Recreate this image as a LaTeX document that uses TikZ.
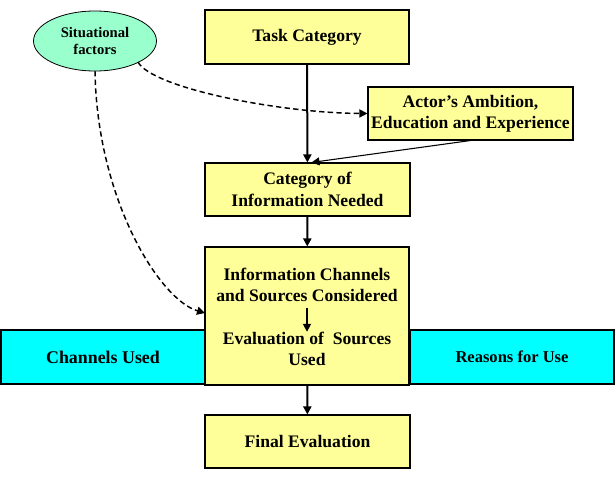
\documentclass[tikz,border=0pt]{standalone}
\usepackage{fontspec}
\setmainfont{Liberation Serif}
\usetikzlibrary{shapes.geometric,arrows.meta}
\definecolor{boxyellow}{HTML}{FFFF99}
\definecolor{mint}{HTML}{99FFCC}
\definecolor{cyanband}{HTML}{00FFFF}
\tikzset{
  ybox/.style={draw=black,line width=0.8pt,fill=boxyellow,inner sep=0pt,align=center,
    font=\bfseries\fontsize{13.2}{16}\selectfont},
  cbox/.style={draw=black,line width=0.8pt,fill=cyanband,inner sep=0pt,align=center,
    minimum width=153pt,minimum height=40.5pt},
  txt/.style={inner sep=0pt,align=center,font=\bfseries\fontsize{13.2}{16}\selectfont},
  mainarrow/.style={line width=1.5pt,-{Triangle[length=6pt,width=6pt]}},
  thinarrow/.style={line width=0.8pt,-{Triangle[length=6pt,width=6pt]}},
  dasharrow/.style={line width=1.1pt,dash pattern=on 4pt off 2.5pt,-{Triangle[length=6pt,width=6pt]}}
}
\begin{document}
\begin{tikzpicture}[x=0.75pt,y=-0.75pt]
\useasboundingbox (0,0) rectangle (615,493);
% cyan band
\node[cbox,font=\bfseries\fontsize{13.4}{16}\selectfont] (chan) at (103,357) {Channels Used};
\node[cbox,font=\bfseries\fontsize{12.4}{15}\selectfont] (reas) at (512,357) {Reasons for Use};
% boxes
\node[ybox,minimum width=153pt,minimum height=40.5pt] (task) at (307,37) {Task Category};
\node[draw=black,line width=0.6pt,fill=mint,ellipse,inner sep=0pt,minimum width=92.25pt,minimum height=45pt,
  align=center,font=\bfseries\fontsize{11}{13}\selectfont] (sit) at (95,41) {Situational\\factors};
\node[ybox,minimum width=153.75pt,minimum height=39.75pt] (actor) at (470.5,113.5) {Actor’s Ambition,\\Education and Experience};
\node[ybox,minimum width=153.75pt,minimum height=39.75pt] (cat) at (307.5,189.5) {Category of\\Information Needed};
\node[ybox,minimum width=153pt,minimum height=103.5pt] (info) at (307,316) {};
\node[txt] (infotop) at (307,285) {Information Channels\\and Sources Considered};
\node[txt] (evaltxt) at (307,349) {Evaluation of \ Sources\\Used};
\node[ybox,minimum width=153.75pt,minimum height=39.75pt] (final) at (307.5,441.5) {Final Evaluation};
% connectors
\draw[mainarrow] (task) -- (cat);
\draw[thinarrow] (actor.south) -- ([xshift=3pt]cat.north);
\draw[mainarrow] (cat) -- (info);
\draw[thinarrow,line width=1.3pt,shorten <=4pt] (infotop.south) -- (evaltxt.north);
\draw[mainarrow] (info) -- (final);
\coordinate (s1) at (138,62);
\coordinate (s2) at (95,71);
\coordinate (e2) at (205,313);
\draw[dasharrow] (s1) .. controls (152,88) and (280,113) .. (actor.west);
\draw[dasharrow] (s2) .. controls (97,200) and (160,300) .. (e2);
\end{tikzpicture}
\end{document}
